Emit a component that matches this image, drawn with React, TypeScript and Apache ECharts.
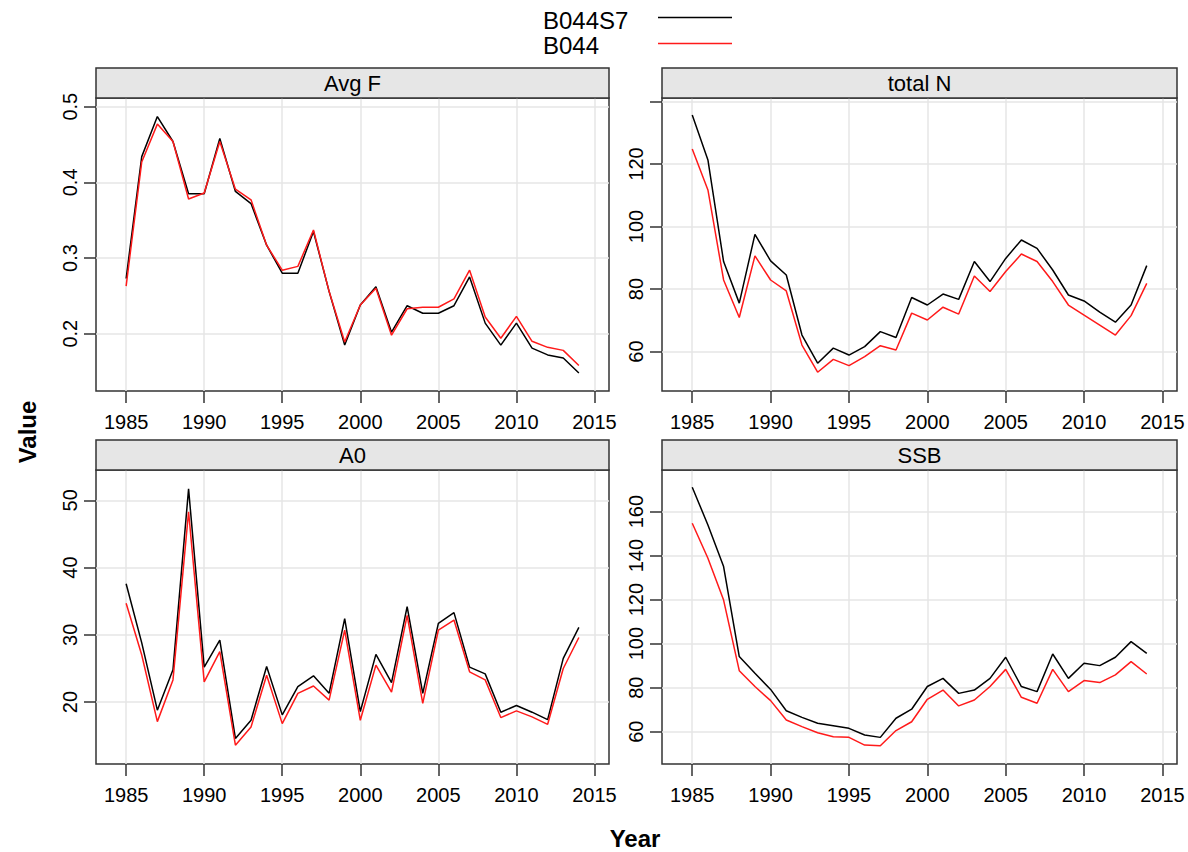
import React, { useEffect, useRef } from "react";
import * as echarts from "echarts";

// ---------------- data ----------------
const years = [
  1985, 1986, 1987, 1988, 1989, 1990, 1991, 1992, 1993, 1994,
  1995, 1996, 1997, 1998, 1999, 2000, 2001, 2002, 2003, 2004,
  2005, 2006, 2007, 2008, 2009, 2010, 2011, 2012, 2013, 2014,
];
const seriesNames = ["B044S7", "B044"];
const seriesColors = ["#000000", "#ff1a1a"];
const panelTitles = ["Avg F", "total N", "A0", "SSB"];

const avgF_B044S7 = [0.273, 0.434, 0.487, 0.454, 0.385, 0.385, 0.458, 0.388, 0.372, 0.317, 0.28, 0.28, 0.335, 0.256, 0.185, 0.238, 0.262, 0.202, 0.237, 0.227, 0.227, 0.237, 0.275, 0.214, 0.185, 0.214, 0.181, 0.172, 0.168, 0.148];
const avgF_B044 = [0.263, 0.427, 0.477, 0.454, 0.378, 0.386, 0.454, 0.391, 0.377, 0.317, 0.284, 0.289, 0.337, 0.256, 0.189, 0.238, 0.26, 0.198, 0.233, 0.235, 0.235, 0.246, 0.284, 0.222, 0.194, 0.223, 0.19, 0.182, 0.178, 0.158];

const totalN_B044S7 = [135.7, 121.3, 88.8, 75.5, 97.5, 89.0, 84.5, 65.3, 56.3, 61.1, 58.9, 61.6, 66.4, 64.5, 77.3, 74.9, 78.4, 76.7, 88.8, 82.4, 89.8, 95.7, 93.0, 86.1, 78.1, 76.2, 72.6, 69.4, 74.9, 87.5];
const totalN_B044 = [124.8, 111.7, 82.9, 70.9, 90.6, 82.9, 79.4, 62.1, 53.4, 57.5, 55.5, 58.4, 61.9, 60.5, 72.3, 70.1, 74.2, 72.0, 84.2, 79.2, 85.6, 91.2, 88.8, 82.4, 74.9, 71.7, 68.5, 65.3, 71.5, 81.8];

const a0_B044S7 = [37.6, 28.8, 18.8, 24.8, 51.7, 25.2, 29.2, 14.6, 17.3, 25.3, 18.1, 22.3, 23.9, 21.3, 32.4, 18.6, 27.1, 22.9, 34.2, 21.3, 31.7, 33.3, 25.2, 24.2, 18.5, 19.5, 18.5, 17.4, 26.5, 31.1];
const a0_B044 = [34.7, 27.0, 17.1, 23.3, 48.3, 23.0, 27.5, 13.6, 16.3, 24.0, 16.8, 21.3, 22.4, 20.3, 30.7, 17.3, 25.5, 21.5, 32.9, 19.8, 30.7, 32.2, 24.5, 23.3, 17.7, 18.7, 17.8, 16.7, 25.0, 29.6];

const ssb_B044S7 = [171.1, 153.9, 135.0, 94.1, 86.5, 79.2, 69.5, 66.5, 63.8, 62.7, 61.5, 58.5, 57.4, 66.1, 70.2, 80.5, 84.2, 77.4, 78.9, 84.2, 93.8, 80.5, 78.2, 95.3, 84.2, 91.1, 90.0, 93.8, 100.9, 95.6];
const ssb_B044 = [154.7, 138.8, 119.8, 87.7, 80.5, 74.1, 65.3, 62.3, 59.5, 57.7, 57.4, 53.9, 53.6, 60.5, 64.5, 74.7, 78.9, 71.7, 74.4, 80.5, 88.3, 75.6, 72.9, 88.3, 78.2, 83.2, 82.3, 85.8, 91.8, 86.2];

const xRange = [1983.07, 2015.93];
const xTicks = [1985, 1990, 1995, 2000, 2005, 2010, 2015];

const yRanges = [
  [0.1243, 0.5115],
  [47.4, 141.1],
  [10.8, 54.5],
  [45.3, 178.9],
];
const yTicks = [
  [0.2, 0.3, 0.4, 0.5],
  [60, 80, 100, 120, 140],
  [20, 30, 40, 50],
  [60, 80, 100, 120, 140, 160],
];
const yTickLabels = [
  [0.2, 0.3, 0.4, 0.5],
  [60, 80, 100, 120],
  [20, 30, 40, 50],
  [60, 80, 100, 120, 140, 160],
];

const panelSeries = [
  [avgF_B044S7, avgF_B044],
  [totalN_B044S7, totalN_B044],
  [a0_B044S7, a0_B044],
  [ssb_B044S7, ssb_B044],
];

// ---------------- layout ----------------
const FONT = "'Liberation Sans', Arial, Helvetica, sans-serif";
const COLS = [
  { left: 96, width: 513 },
  { left: 662, width: 515 },
];
const ROWS = [
  { top: 98, height: 293 },
  { top: 470, height: 294 },
];
const STRIP_H = 30;
const BORDER = "#333333";
const GRIDLINE = "#e6e6e6";

function buildOption() {
  const panels = panelTitles.map((title, i) => {
    const c = COLS[i % 2];
    const r = ROWS[Math.floor(i / 2)];
    return { title, left: c.left, width: c.width, top: r.top, height: r.height };
  });

  const grid = panels.map((p) => ({
    left: p.left,
    top: p.top,
    width: p.width,
    height: p.height,
    show: true,
    borderColor: BORDER,
    borderWidth: 1.5,
    backgroundColor: "transparent",
    containLabel: false,
  }));

  const xAxis = panels.map((p, i) => ({
    type: "value",
    gridIndex: i,
    min: xRange[0],
    max: xRange[1],
    axisLine: { show: false },
    axisTick: {
      show: true,
      customValues: xTicks,
      length: 12,
      lineStyle: { color: BORDER, width: 1.5 },
    },
    axisLabel: {
      show: true,
      customValues: xTicks,
      formatter: (v: number) => String(v),
      fontSize: 20,
      color: "#000",
      fontFamily: FONT,
      margin: 21,
    },
    splitLine: { show: false },
  }));

  const yAxis = panels.map((p, i) => ({
    type: "value",
    gridIndex: i,
    min: yRanges[i][0],
    max: yRanges[i][1],
    axisLine: { show: false },
    axisTick: {
      show: true,
      customValues: yTicks[i],
      length: 12,
      lineStyle: { color: BORDER, width: 1.5 },
    },
    axisLabel: {
      show: true,
      customValues: yTickLabels[i],
      formatter: (v: number) => String(v),
      rotate: 90,
      fontSize: 20,
      color: "#000",
      fontFamily: FONT,
      margin: 16,
    },
    splitLine: { show: false },
  }));

  const series: any[] = [];
  panels.forEach((p, i) => {
    // background reference grid lines
    series.push({
      type: "line",
      name: "_grid" + i,
      xAxisIndex: i,
      yAxisIndex: i,
      data: [],
      silent: true,
      z: 1,
      markLine: {
        silent: true,
        z: 1,
        symbol: ["none", "none"],
        label: { show: false },
        lineStyle: { color: GRIDLINE, width: 1.5, type: "solid" },
        emphasis: { disabled: true },
        data: [
          ...xTicks.map((v) => ({ xAxis: v })),
          ...yTicks[i].map((v) => ({ yAxis: v })),
        ],
      },
    });
    panelSeries[i].forEach((vals, s) => {
      series.push({
        type: "line",
        name: seriesNames[s],
        xAxisIndex: i,
        yAxisIndex: i,
        data: years.map((y, k) => [y, vals[k]]),
        showSymbol: false,
        symbol: "none",
        z: 3 + s,
        lineStyle: { color: seriesColors[s], width: 1.5 },
        itemStyle: { color: seriesColors[s] },
        emphasis: { disabled: true },
      });
    });
  });

  const graphic: any[] = [];
  panels.forEach((p) => {
    graphic.push({
      type: "rect",
      shape: { x: p.left, y: p.top - STRIP_H, width: p.width, height: STRIP_H },
      style: { fill: "#e6e6e6", stroke: BORDER, lineWidth: 1.5 },
      z: 10,
    });
    graphic.push({
      type: "text",
      x: p.left + p.width / 2,
      y: p.top - STRIP_H / 2,
      style: {
        text: p.title,
        fontSize: 22,
        fontFamily: FONT,
        fill: "#000",
        align: "center",
        verticalAlign: "middle",
        textAlign: "center",
        textVerticalAlign: "middle",
      },
      z: 11,
    });
  });

  // legend (text, then line sample to the right)
  const legendY = [20, 45];
  const lineY = [17.5, 43.5];
  seriesNames.forEach((name, s) => {
    graphic.push({
      type: "text",
      x: 543,
      y: legendY[s],
      style: {
        text: name,
        fontSize: 24,
        fontFamily: FONT,
        fill: "#000",
        align: "left",
        verticalAlign: "middle",
        textAlign: "left",
        textVerticalAlign: "middle",
      },
    });
    graphic.push({
      type: "line",
      shape: { x1: 658, y1: lineY[s], x2: 732, y2: lineY[s] },
      style: { stroke: seriesColors[s], lineWidth: 1.5 },
    });
  });

  // axis titles
  graphic.push({
    type: "text",
    x: 635,
    y: 838,
    style: {
      text: "Year",
      fontSize: 24,
      fontWeight: "bold",
      fontFamily: FONT,
      fill: "#000",
      align: "center",
      verticalAlign: "middle",
      textAlign: "center",
      textVerticalAlign: "middle",
    },
  });
  graphic.push({
    type: "text",
    x: 27,
    y: 432,
    rotation: Math.PI / 2,
    style: {
      text: "Value",
      fontSize: 24,
      fontWeight: "bold",
      fontFamily: FONT,
      fill: "#000",
      align: "center",
      verticalAlign: "middle",
      textAlign: "center",
      textVerticalAlign: "middle",
    },
  });

  return {
    animation: false,
    backgroundColor: "#ffffff",
    textStyle: { fontFamily: FONT },
    grid,
    xAxis,
    yAxis,
    series,
    graphic,
  };
}

export default function App() {
  const ref = useRef<HTMLDivElement>(null);
  useEffect(() => {
    if (!ref.current) return;
    const chart = echarts.init(ref.current, undefined, { renderer: "svg" });
    chart.setOption(buildOption() as any);
    return () => {
      chart.dispose();
    };
  }, []);
  return (
    <div
      ref={ref}
      style={{ position: "fixed", left: 0, top: 0, width: 1188, height: 852, background: "#fff" }}
    />
  );
}
